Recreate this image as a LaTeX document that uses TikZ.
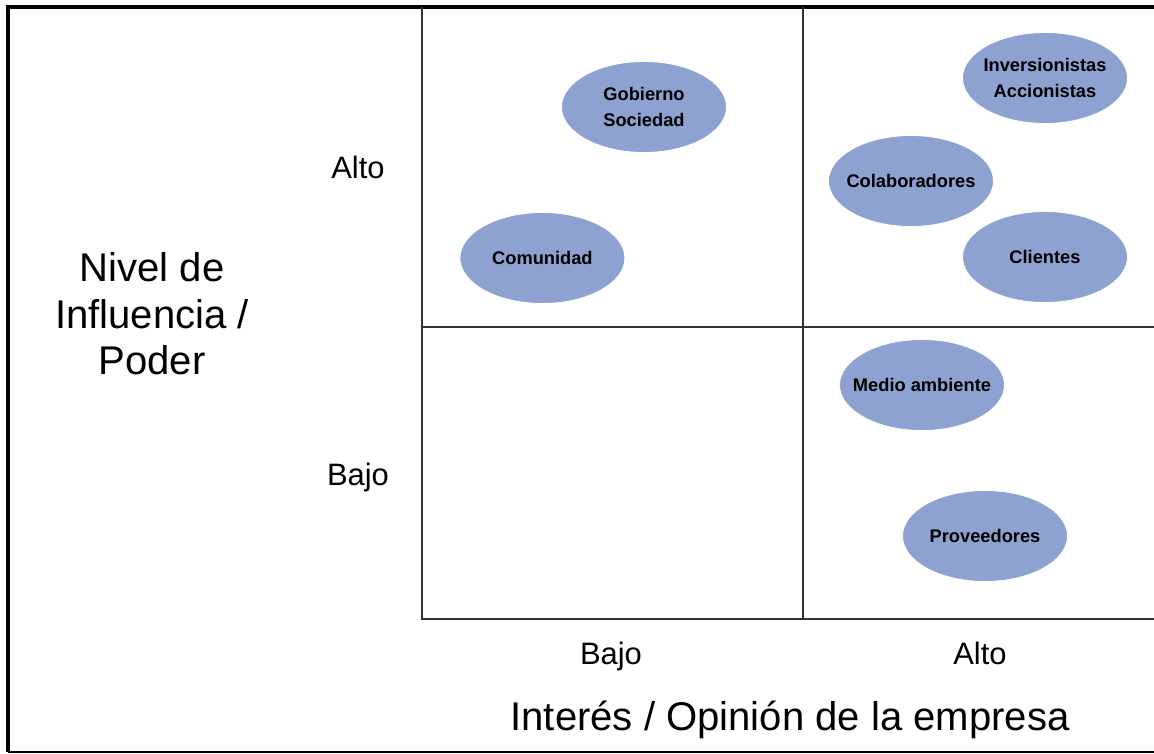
\documentclass[tikz,border=0pt]{standalone}
\usepackage{fontspec}
\setmainfont{Liberation Sans}
\usepackage{tikz}
\usetikzlibrary{shapes.geometric}
\definecolor{grupo}{RGB}{142,162,209}

\begin{document}
\begin{tikzpicture}[
  actor/.style={ellipse,fill=grupo,draw=white,line width=0.6pt,
    minimum width=4.125cm,minimum height=2.275cm,inner xsep=-0.3cm,inner ysep=0pt,
    align=center,font=\fontsize{13}{18.4}\selectfont\bfseries},
  nivel/.style={font=\fontsize{22}{26}\selectfont,anchor=base},
  titulo/.style={font=\fontsize{28.5}{33}\selectfont,align=center},
  rejilla/.style={draw=black!80,line width=1.2pt}
]
  \useasboundingbox (0,0) rectangle (28.85,-18.85);
  % draw frame
  \draw[line width=2.8pt] (28.85,-0.175) -- (0.2,-0.175) -- (0.2,-18.8);
  \draw[line width=1.4pt] (0.2,-18.8) -- (28.85,-18.8);
  % draw grid
  \draw[rejilla] (10.55,-0.175) -- (10.55,-15.475) -- (28.85,-15.475);
  \draw[rejilla] (20.075,-0.175) -- (20.075,-15.475);
  \draw[rejilla] (10.55,-8.175) -- (28.85,-8.175);
  % draw labels
  \node[nivel] (altoy) at (8.95,-4.475) {Alto};
  \node[nivel] (bajoy) at (8.95,-12.125) {Bajo};
  \node[nivel] (bajox) at (15.275,-16.6) {Bajo};
  \node[nivel] (altox) at (24.5,-16.6) {Alto};
  \node[titulo] (poder) at (3.8,-7.85) {Nivel de\\Influencia /\\Poder};
  \node[titulo] (interes) at (19.75,-18.0) {Interés / Opinión de la empresa};
  % draw stakeholders
  \node[actor] (gobierno) at (16.1,-2.675) {Gobierno\\Sociedad};
  \node[actor] (comunidad) at (13.56,-6.45) {Comunidad};
  \node[actor] (inversionistas) at (26.125,-1.95) {Inversionistas\\Accionistas};
  \node[actor] (colaboradores) at (22.775,-4.525) {Colaboradores};
  \node[actor] (clientes) at (26.125,-6.425) {Clientes};
  \node[actor] (medio) at (23.05,-9.625) {Medio ambiente};
  \node[actor] (proveedores) at (24.625,-13.4) {Proveedores};
\end{tikzpicture}
\end{document}
